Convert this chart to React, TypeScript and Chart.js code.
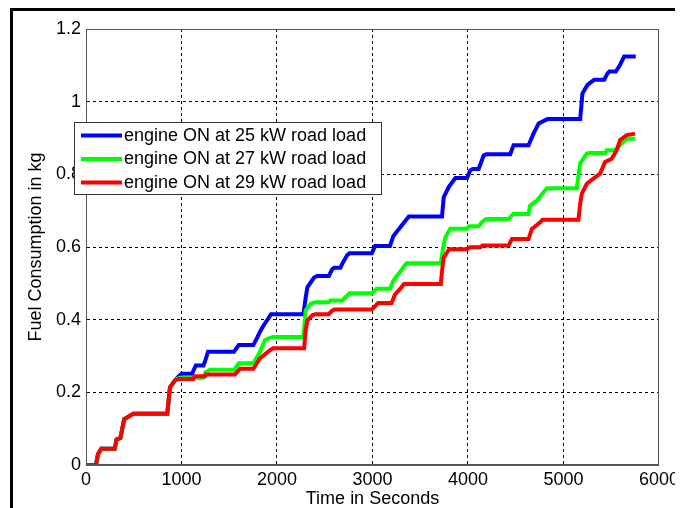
import React, { useEffect, useRef } from 'react';
import { Chart, registerables } from 'chart.js';

Chart.register(...registerables);

const FONT = '"Liberation Sans", Arial, Helvetica, sans-serif';

const seriesLabels = [
  'engine ON at 25 kW road load',
  'engine ON at 27 kW road load',
  'engine ON at 29 kW road load',
];
const seriesColors = ['#0000ff', '#00ff00', '#ff0000'];

const xTickValues = [0, 1000, 2000, 3000, 4000, 5000, 6000];
const yTickValues = [0, 0.2, 0.4, 0.6, 0.8, 1, 1.2];
const xTitle = 'Time in Seconds';
const yTitle = 'Fuel Consumption in kg';

// 25 kW (blue)
const blueTime = [0, 105, 125, 160, 300, 320, 360, 400, 495, 851, 870, 880, 932, 975, 1000, 1110, 1150, 1230, 1250, 1278, 1550, 1600, 1752, 1790, 1822, 1850, 1938, 2277, 2300, 2318, 2388, 2420, 2543, 2578, 2600, 2664, 2690, 2734, 2760, 2993, 3028, 3183, 3218, 3287, 3339, 3380, 3728, 3746, 3798, 3868, 3990, 4024, 4050, 4111, 4164, 4190, 4442, 4477, 4634, 4686, 4740, 4832, 5175, 5199, 5251, 5321, 5426, 5461, 5480, 5548, 5590, 5635, 5757];
const blueFuel = [0, 0, 0.03, 0.045, 0.045, 0.07, 0.074, 0.126, 0.141, 0.141, 0.19, 0.214, 0.233, 0.245, 0.251, 0.251, 0.274, 0.274, 0.288, 0.312, 0.312, 0.33, 0.33, 0.349, 0.367, 0.38, 0.415, 0.415, 0.46, 0.489, 0.516, 0.52, 0.52, 0.539, 0.543, 0.543, 0.557, 0.577, 0.583, 0.583, 0.603, 0.603, 0.63, 0.653, 0.67, 0.684, 0.684, 0.737, 0.765, 0.79, 0.79, 0.811, 0.815, 0.815, 0.852, 0.855, 0.855, 0.88, 0.88, 0.912, 0.94, 0.952, 0.952, 1.023, 1.046, 1.06, 1.06, 1.078, 1.083, 1.083, 1.1, 1.124, 1.124];

// 27 kW (green)
const greenTime = [0, 105, 125, 160, 300, 320, 360, 400, 495, 851, 870, 880, 932, 980, 1230, 1250, 1300, 1550, 1600, 1752, 1820, 1874, 1927, 1960, 2277, 2300, 2353, 2400, 2543, 2560, 2682, 2734, 2760, 2993, 3045, 3183, 3218, 3270, 3356, 3715, 3740, 3763, 3815, 3990, 4010, 4111, 4164, 4190, 4425, 4477, 4634, 4650, 4721, 4808, 4830, 5139, 5174, 5244, 5280, 5436, 5455, 5540, 5592, 5645, 5680, 5749];
const greenFuel = [0, 0, 0.03, 0.045, 0.045, 0.07, 0.074, 0.126, 0.141, 0.141, 0.19, 0.214, 0.233, 0.24, 0.24, 0.255, 0.262, 0.262, 0.28, 0.28, 0.31, 0.344, 0.35, 0.352, 0.352, 0.425, 0.444, 0.448, 0.448, 0.453, 0.453, 0.466, 0.473, 0.473, 0.485, 0.485, 0.507, 0.525, 0.555, 0.555, 0.6, 0.627, 0.65, 0.65, 0.657, 0.657, 0.673, 0.677, 0.677, 0.691, 0.691, 0.714, 0.728, 0.756, 0.762, 0.762, 0.83, 0.857, 0.859, 0.859, 0.866, 0.866, 0.88, 0.894, 0.898, 0.898];

// 29 kW (red)
const redTime = [0, 105, 125, 160, 300, 320, 360, 400, 495, 851, 870, 880, 932, 980, 1124, 1140, 1246, 1260, 1560, 1613, 1752, 1820, 1927, 1960, 2284, 2300, 2318, 2370, 2400, 2543, 2578, 2600, 2993, 3045, 3060, 3200, 3235, 3304, 3330, 3715, 3735, 3746, 3798, 3820, 3990, 4024, 4129, 4150, 4425, 4460, 4634, 4669, 4756, 4780, 5157, 5175, 5192, 5244, 5296, 5383, 5436, 5505, 5557, 5592, 5662, 5749];
const redFuel = [0, 0, 0.03, 0.045, 0.045, 0.07, 0.074, 0.126, 0.141, 0.141, 0.19, 0.214, 0.233, 0.237, 0.237, 0.244, 0.244, 0.249, 0.249, 0.265, 0.265, 0.293, 0.316, 0.321, 0.321, 0.37, 0.398, 0.412, 0.415, 0.415, 0.425, 0.428, 0.428, 0.442, 0.446, 0.446, 0.469, 0.489, 0.498, 0.498, 0.55, 0.571, 0.592, 0.594, 0.594, 0.599, 0.599, 0.604, 0.604, 0.622, 0.622, 0.65, 0.668, 0.675, 0.675, 0.72, 0.747, 0.774, 0.785, 0.802, 0.834, 0.843, 0.866, 0.894, 0.908, 0.912];

const toPoints = (t: number[], v: number[]) => t.map((x, i) => ({ x, y: v[i] }));

const framePlugin = {
  id: 'frame',
  beforeDraw(chart: any) {
    const { ctx, width, height } = chart;
    ctx.save();
    ctx.fillStyle = '#000';
    ctx.fillRect(2, 0, 3, height);
    ctx.fillRect(2, 0, width, 3);
    ctx.restore();
  },
};

const legendPlugin = {
  id: 'boxLegend',
  afterDatasetsDraw(chart: any) {
    const { ctx, chartArea: a } = chart;
    ctx.save();
    ctx.setLineDash([]);
    // axes box (top / right edges)
    ctx.strokeStyle = '#555';
    ctx.lineWidth = 1;
    ctx.strokeRect(Math.round(a.left) + 0.5, Math.round(a.top) + 0.5, Math.round(a.right - a.left) - 1, Math.round(a.bottom - a.top) - 1);

    // legend
    const bx = Math.round(a.left) - 12;
    const by = Math.round(a.top) + 93;
    const bw = 307;
    const bh = 72;
    ctx.fillStyle = '#fff';
    ctx.fillRect(bx, by, bw, bh);
    ctx.strokeStyle = '#333';
    ctx.lineWidth = 1;
    ctx.strokeRect(bx + 0.5, by + 0.5, bw, bh);
    ctx.font = `18px ${FONT}`;
    ctx.textBaseline = 'middle';
    ctx.textAlign = 'left';
    chart.data.datasets.forEach((ds: any, i: number) => {
      const cy = by + 13.5 + i * 23.5;
      ctx.strokeStyle = ds.borderColor;
      ctx.lineWidth = 4;
      ctx.beginPath();
      ctx.moveTo(bx + 7, cy);
      ctx.lineTo(bx + 48, cy);
      ctx.stroke();
      ctx.fillStyle = '#000';
      ctx.fillText(ds.label, bx + 50, cy + 0.5);
    });
    ctx.restore();
  },
};

export default function App() {
  const ref = useRef<HTMLCanvasElement | null>(null);

  useEffect(() => {
    document.body.style.overflow = 'hidden';
    const canvas = ref.current;
    if (!canvas) return;
    const series = [
      { t: blueTime, v: blueFuel },
      { t: greenTime, v: greenFuel },
      { t: redTime, v: redFuel },
    ];
    const chart = new Chart(canvas, {
      type: 'line',
      data: {
        datasets: series.map((s, i) => ({
          label: seriesLabels[i],
          data: toPoints(s.t, s.v),
          borderColor: seriesColors[i],
          backgroundColor: seriesColors[i],
          borderWidth: 4,
          pointRadius: 0,
          tension: 0,
          fill: false,
          order: 2 - i,
        })),
      },
      options: {
        animation: false,
        responsive: false,
        devicePixelRatio: 1,
        layout: { padding: { top: 21, right: 24, left: 0, bottom: 0 } },
        plugins: {
          legend: { display: false },
          tooltip: { enabled: false },
        },
        scales: {
          x: {
            type: 'linear',
            min: 0,
            max: 6000,
            afterBuildTicks: (s: any) => {
              s.ticks = xTickValues.map((value) => ({ value }));
            },
            afterFit: (s: any) => {
              s.height = 43;
            },
            ticks: {
              color: '#000',
              font: { family: FONT, size: 18 },
              padding: 4,
              maxRotation: 0,
              callback: (v: any) => String(v),
            },
            grid: { color: '#000', lineWidth: 1, drawTicks: false },
            border: { display: true, color: '#555', width: 1, dash: [3, 3] },
            title: {
              display: true,
              text: xTitle,
              color: '#000',
              font: { family: FONT, size: 18 },
              padding: { top: 0, bottom: -2 },
            },
          },
          y: {
            type: 'linear',
            min: 0,
            max: 1.2,
            afterBuildTicks: (s: any) => {
              s.ticks = yTickValues.map((value) => ({ value }));
            },
            afterFit: (s: any) => {
              s.width = 78;
            },
            ticks: {
              color: '#000',
              font: { family: FONT, size: 18 },
              padding: 5,
              callback: (v: any) => String(Math.round(Number(v) * 10) / 10),
            },
            grid: { color: '#000', lineWidth: 1, drawTicks: false },
            border: { display: true, color: '#555', width: 1, dash: [3, 3] },
            title: {
              display: true,
              text: yTitle,
              color: '#000',
              font: { family: FONT, size: 18 },
              padding: { top: 17, bottom: 0 },
            },
          },
        },
      },
      plugins: [framePlugin, legendPlugin],
    } as any);
    return () => chart.destroy();
  }, []);

  return (
    <div style={{ width: 675, height: 500, position: 'relative' }}>
      <canvas ref={ref} width={675} height={500} style={{ display: 'block', width: 675, height: 500 }} />
    </div>
  );
}
